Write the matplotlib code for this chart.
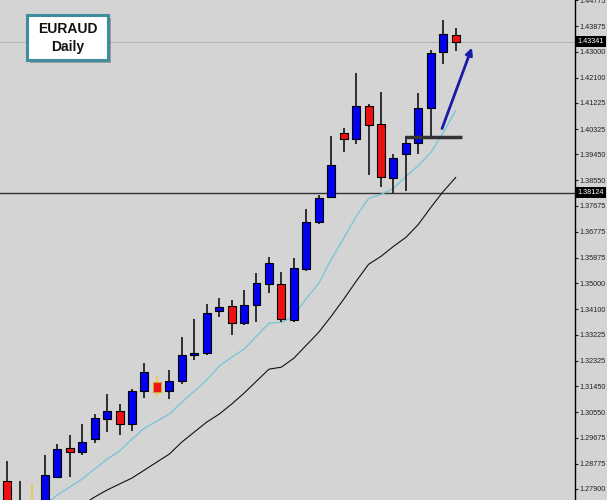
import matplotlib
matplotlib.use("Agg")
import matplotlib.pyplot as plt
import matplotlib.patches as patches
import numpy as np

# EURAUD daily candles
opens = [1.28175, 1.27417, 1.27348, 1.27003, 1.28313, 1.29312, 1.29175, 1.29623,
         1.30312, 1.30588, 1.30140, 1.31277, 1.31587, 1.31277, 1.31622, 1.32518,
         1.32587, 1.34035, 1.34207, 1.33621, 1.34242, 1.34966, 1.34966, 1.33725,
         1.35483, 1.37103, 1.37964, 1.40205, 1.39998, 1.41136, 1.40515, 1.38619,
         1.39481, 1.39860, 1.41067, 1.42997, 1.43583]
highs = [1.28864, 1.28175, 1.28106, 1.29071, 1.29450, 1.29761, 1.30140, 1.30484,
         1.31174, 1.30829, 1.31346, 1.32242, 1.31794, 1.32001, 1.33139, 1.33759,
         1.34276, 1.34483, 1.34414, 1.34759, 1.35345, 1.35896, 1.35379, 1.35862,
         1.37551, 1.38033, 1.40102, 1.40377, 1.42273, 1.41205, 1.41618, 1.39447,
         1.40102, 1.41584, 1.43066, 1.44100, 1.43824]
lows = [1.27003, 1.26831, 1.27003, 1.26900, 1.28278, 1.28313, 1.29071, 1.29485,
        1.29864, 1.29761, 1.29898, 1.31036, 1.31070, 1.31001, 1.31519, 1.32346,
        1.32518, 1.33828, 1.33208, 1.33552, 1.33656, 1.34655, 1.33656, 1.33656,
        1.35414, 1.37034, 1.37930, 1.39516, 1.39826, 1.38723, 1.38309, 1.38102,
        1.38171, 1.39481, 1.40102, 1.42583, 1.43032]
closes = [1.27175, 1.27003, 1.27313, 1.28382, 1.29278, 1.29175, 1.29519, 1.30347,
          1.30588, 1.30140, 1.31277, 1.31932, 1.31243, 1.31622, 1.32518, 1.32587,
          1.33966, 1.34173, 1.33621, 1.34242, 1.35000, 1.35689, 1.33759, 1.35517,
          1.37103, 1.37930, 1.39067, 1.39998, 1.41136, 1.40481, 1.38654, 1.39343,
          1.39860, 1.41067, 1.42963, 1.43618, 1.43341]
highlighted = [2, 12]

# moving averages (fast starts at candle 3, slow at candle 6)
fast_ma = [1.27348, 1.27692, 1.27968, 1.28244, 1.28589, 1.28933, 1.29209, 1.29623,
           1.30002, 1.30243, 1.30484, 1.30898, 1.31277, 1.31656, 1.32139, 1.32449,
           1.32725, 1.33173, 1.33621, 1.33656, 1.33862, 1.34483, 1.35000, 1.35827,
           1.36551, 1.37310, 1.37930, 1.38068, 1.38275, 1.38688, 1.39067, 1.39516,
           1.40205, 1.40963]
slow_ma = [1.27348, 1.27623, 1.27865, 1.28072, 1.28278, 1.28554, 1.28830, 1.29106,
           1.29519, 1.29864, 1.30209, 1.30484, 1.30829, 1.31208, 1.31622, 1.32036,
           1.32105, 1.32415, 1.32863, 1.33311, 1.33862, 1.34448, 1.35069, 1.35655,
           1.35931, 1.36275, 1.36586, 1.37034, 1.37620, 1.38171, 1.38654]

price_ticks = [1.44775, 1.43875, 1.43000, 1.42100, 1.41225, 1.40325, 1.39450,
               1.38550, 1.37675, 1.36775, 1.35875, 1.35000, 1.34100, 1.33225,
               1.32325, 1.31450, 1.30550, 1.29675, 1.28775, 1.27900]
support_level = 1.38124
current_price = 1.43341
retest_level = 1.40067
retest_span = (31.9, 36.5)
arrow_from = (34.9, 1.40343)
arrow_to = (37.3, 1.43135)

bg = '#d4d4d4'
lab_font = 'Liberation Sans'
lab_size = 5.2

fig = plt.figure(figsize=(6.07, 5.0), dpi=100, facecolor=bg)
ax = fig.add_axes([0, 0, 575 / 607, 1])
ax.set_facecolor(bg)

x = np.arange(len(opens))
o = np.array(opens)
c = np.array(closes)
up = c >= o

wick_colors = ['#f0c850' if i in highlighted else '#222222' for i in x]
ax.vlines(x, lows, highs, colors=wick_colors, lw=1.3, zorder=3)

body_colors = np.where(up, '#0000ee', '#ee1111')
edge_colors = ['#d9a020' if i in highlighted else 'black' for i in x]
ax.bar(x, np.abs(c - o), bottom=np.minimum(o, c), width=0.64,
       color=body_colors, edgecolor=edge_colors, lw=0.8, zorder=4)

ax.plot(x[3:3 + len(fast_ma)], fast_ma, color='#7cc6d6', lw=1.0, zorder=2)
ax.plot(x[6:6 + len(slow_ma)], slow_ma, color='#111111', lw=0.8, zorder=2)

ax.axhline(support_level, color='#333333', lw=1.0, zorder=1)
ax.axhline(current_price, color='#b4b4b4', lw=0.8, zorder=1)
ax.hlines(retest_level, *retest_span, color='#333333', lw=2.5, zorder=5)
ax.annotate('', xy=arrow_to, xytext=arrow_from,
            arrowprops=dict(arrowstyle='-|>', color='#1a1aa6', lw=2,
                            mutation_scale=10, shrinkA=0, shrinkB=0), zorder=6)

ax.set_xlim(-0.6, 45.58)
ax.set_ylim(1.27520, 1.44780)
ax.set_xticks([])
ax.set_yticks(price_ticks)
ax.set_yticklabels([f'{t:.5f}' for t in price_ticks])
ax.yaxis.tick_right()
ax.tick_params(axis='y', length=2.2, width=0.8, pad=1.2, labelsize=lab_size,
               colors='#222222')
for lab in ax.get_yticklabels():
    lab.set_family(lab_font)
for side in ['left', 'top', 'bottom']:
    ax.spines[side].set_visible(False)
ax.spines['right'].set_color('black')
ax.spines['right'].set_linewidth(1.0)

# price tags on the axis
for lvl in [current_price, support_level]:
    ax.text(1.004, lvl, f'{lvl:.5f}', transform=ax.get_yaxis_transform(),
            va='center', ha='left', fontsize=lab_size, color='white',
            family=lab_font,
            bbox=dict(boxstyle='square,pad=0.3', fc='black', ec='none'),
            zorder=10, clip_on=False)

# title box
W, H = 607, 500
shadow = patches.Rectangle((30 / W, 1 - 63 / H), 81 / W, 45 / H,
                           transform=fig.transFigure, fc='#7a7a7a', ec='none',
                           alpha=0.6, zorder=20)
box = patches.Rectangle((27 / W, 1 - 60 / H), 81 / W, 45 / H,
                        transform=fig.transFigure, fc='white', ec='#3f8c9c',
                        lw=2.2, zorder=21)
fig.patches.extend([shadow, box])
fig.text(68 / W, 1 - 29 / H, 'EURAUD', ha='center', va='center', fontsize=10,
         fontweight='bold', family='Liberation Sans', color='#111111', zorder=22)
fig.text(68 / W, 1 - 47 / H, 'Daily', ha='center', va='center', fontsize=10,
         fontweight='bold', family='Liberation Sans', color='#111111', zorder=22)

fig.savefig('out.png', dpi=100, facecolor=bg)
